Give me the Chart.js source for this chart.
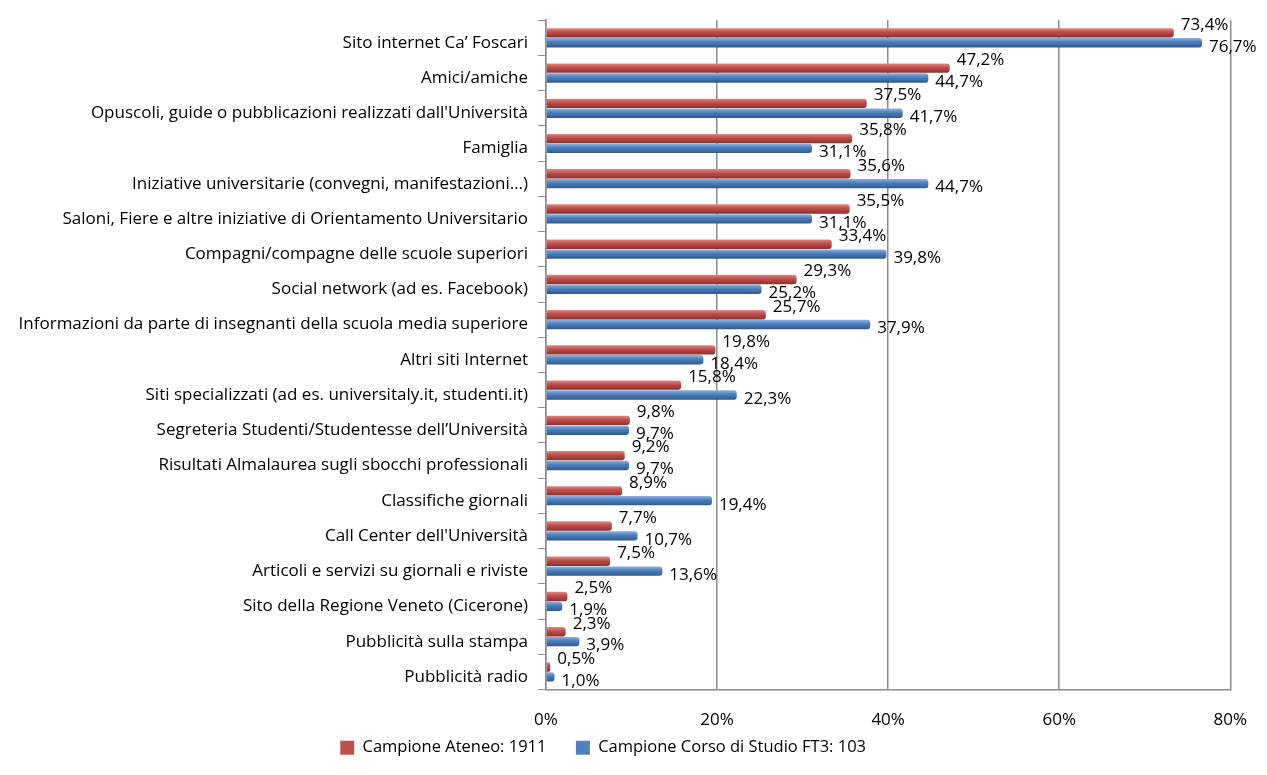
<!DOCTYPE html>
<html>
<head>
<meta charset="utf-8">
<script src="https://cdn.jsdelivr.net/npm/chart.js@4/dist/chart.umd.min.js"></script>
<style>
  html, body { margin: 0; padding: 0; background: #fff; }
  #wrap { width: 1267px; height: 775px; }
</style>
</head>
<body>
<div id="wrap"><canvas id="chart"></canvas></div>
<script>
// data
const categories = [
  "Sito internet Ca\u2019 Foscari",
  "Amici/amiche",
  "Opuscoli, guide o pubblicazioni realizzati dall'Università",
  "Famiglia",
  "Iniziative universitarie (convegni, manifestazioni\u2026)",
  "Saloni, Fiere e altre iniziative di Orientamento Universitario",
  "Compagni/compagne delle scuole superiori",
  "Social network (ad es. Facebook)",
  "Informazioni da parte di insegnanti della scuola media superiore",
  "Altri siti Internet",
  "Siti specializzati (ad es. universitaly.it, studenti.it)",
  "Segreteria Studenti/Studentesse dell\u2019Università",
  "Risultati Almalaurea sugli sbocchi professionali",
  "Classifiche giornali",
  "Call Center dell'Università",
  "Articoli e servizi su giornali e riviste",
  "Sito della Regione Veneto (Cicerone)",
  "Pubblicità sulla stampa",
  "Pubblicità radio"
];
const ateneoValues = [73.4, 47.2, 37.5, 35.8, 35.6, 35.5, 33.4, 29.3, 25.7, 19.8, 15.8, 9.8, 9.2, 8.9, 7.7, 7.5, 2.5, 2.3, 0.5];
const corsoValues  = [76.7, 44.7, 41.7, 31.1, 44.7, 31.1, 39.8, 25.2, 37.9, 18.4, 22.3, 9.7, 9.7, 19.4, 10.7, 13.6, 1.9, 3.9, 1.0];
const seriesNames = ["Campione Ateneo: 1911", "Campione Corso di Studio FT3: 103"];
const xTicks = [0, 20, 40, 60, 80];

const FONT = "'Open Sans', sans-serif";
const baseColors = ["#c0504d", "#4f81bd"];

function pct(v) {
  return v.toFixed(1).replace(".", ",") + "%";
}

// shade each bar like the cylinders of the original
// (colour is scriptable so every bar gets its own options object)
const tubeShade = {
  id: "tubeShade",
  beforeDatasetsDraw(chart) {
    const ctx = chart.ctx;
    const shades = [
      ["#e58783", "#c0504d", "#8a302d"],
      ["#8db3e2", "#4f81bd", "#30598c"]
    ];
    chart.data.datasets.forEach((ds, di) => {
      const meta = chart.getDatasetMeta(di);
      meta.data.forEach((bar) => {
        const top = bar.y - bar.height / 2;
        const g = ctx.createLinearGradient(0, top, 0, top + bar.height);
        g.addColorStop(0, shades[di][0]);
        g.addColorStop(0.4, shades[di][1]);
        g.addColorStop(1, shades[di][2]);
        bar.options.backgroundColor = g;
      });
    });
  }
};

// value labels at the end of each bar
const valueLabels = {
  id: "valueLabels",
  afterDatasetsDraw(chart) {
    const ctx = chart.ctx;
    ctx.save();
    ctx.font = "17px " + FONT;
    ctx.fillStyle = "#000";
    ctx.textBaseline = "middle";
    ctx.textAlign = "left";
    chart.data.datasets.forEach((ds, di) => {
      const meta = chart.getDatasetMeta(di);
      meta.data.forEach((bar, i) => {
        const dy = di === 0 ? -8 : 4;
        ctx.fillText(pct(ds.data[i]), bar.x + 7, bar.y + dy);
      });
    });
    ctx.restore();
  }
};

const legendPad = ["     ", "      "];

const ctx = document.getElementById("chart").getContext("2d");
new Chart(ctx, {
  type: "bar",
  data: {
    labels: categories,
    datasets: [
      {
        label: seriesNames[0],
        data: ateneoValues,
        backgroundColor: () => baseColors[0],
        borderWidth: 0,
        borderRadius: 3,
        borderSkipped: "start"
      },
      {
        label: seriesNames[1],
        data: corsoValues,
        backgroundColor: () => baseColors[1],
        borderWidth: 0,
        borderRadius: 3,
        borderSkipped: "start"
      }
    ]
  },
  options: {
    indexAxis: "y",
    responsive: true,
    maintainAspectRatio: false,
    animation: false,
    categoryPercentage: 0.56,
    barPercentage: 0.95,
    layout: { padding: { top: 12, right: 35, bottom: 9, left: 0 } },
    plugins: {
      legend: {
        position: "bottom",
        labels: {
          font: { family: FONT, size: 16.5 },
          color: "#000",
          boxWidth: 14,
          boxHeight: 14,
          padding: 8,
          generateLabels: (chart) => chart.data.datasets.map((ds, i) => ({
            text: ds.label + legendPad[i],
            fillStyle: baseColors[i],
            strokeStyle: baseColors[i],
            lineWidth: 0,
            datasetIndex: i,
            fontColor: "#000"
          }))
        }
      },
      tooltip: { enabled: false }
    },
    scales: {
      x: {
        min: 0,
        max: 80,
        afterBuildTicks: (scale) => {
          scale.ticks = xTicks.map((v) => ({ value: v }));
        },
        afterFit: (scale) => { scale.height = 42; },
        ticks: {
          callback: (v) => v + "%",
          font: { family: FONT, size: 17 },
          color: "#000",
          padding: 20
        },
        grid: {
          color: "#8c8c8c",
          lineWidth: 1.5,
          drawTicks: false
        },
        border: { display: true, color: "#8c8c8c", width: 1.5 }
      },
      y: {
        afterFit: (scale) => { scale.width = 546; },
        ticks: {
          font: { family: FONT, size: 17 },
          color: "#000",
          padding: 10,
          labelOffset: 5
        },
        grid: {
          offset: true,
          drawOnChartArea: false,
          color: "#8c8c8c",
          tickLength: 8
        },
        border: { display: true, color: "#8c8c8c", width: 1.5 }
      }
    }
  },
  plugins: [tubeShade, valueLabels]
});
</script>
</body>
</html>
